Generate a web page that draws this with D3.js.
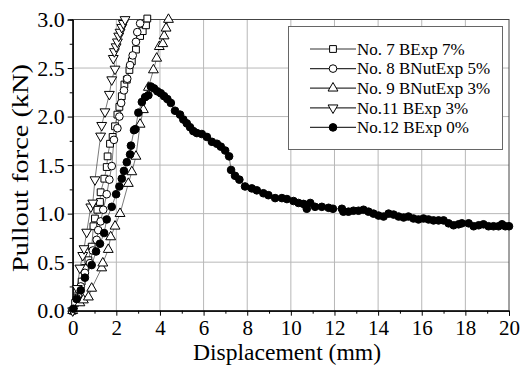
<!DOCTYPE html>
<html><head><meta charset="utf-8">
<script src="https://cdn.jsdelivr.net/npm/d3@7"></script>
<style>body{margin:0;background:#fff}svg{display:block}svg text{font-family:'Liberation Serif','Times New Roman',Times,serif !important;fill:#000}</style>
</head><body>
<script>
const xTicks = [0,2,4,6,8,10,12,14,16,18,20];
const yTicks = [0.0,0.5,1.0,1.5,2.0,2.5,3.0];
const seriesNames = ["No. 7 BExp 7%","No. 8 BNutExp 5%","No. 9 BNutExp 3%","No.11 BExp 3%","No.12 BExp 0%"];
const no7 = [[0,0],[0.11,0.08],[0.26,0.16],[0.41,0.30],[0.56,0.44],[0.72,0.52],[0.87,0.66],[0.95,0.87],[1.02,0.95],[1.13,1.04],[1.25,1.12],[1.28,1.22],[1.45,1.36],[1.56,1.48],[1.60,1.59],[1.71,1.72],[1.83,1.79],[1.94,1.90],[2.05,2.02],[2.14,2.10],[2.25,2.21],[2.37,2.33],[2.48,2.38],[2.60,2.48],[2.71,2.57],[2.90,2.69],[3.09,2.83],[3.21,2.88],[3.36,2.94],[3.42,3.01]];
const no8 = [[0,0],[0.18,0.13],[0.37,0.25],[0.56,0.39],[0.79,0.49],[0.92,0.62],[1.10,0.73],[1.17,0.83],[1.28,0.92],[1.40,1.04],[1.56,1.20],[1.68,1.35],[1.79,1.49],[1.89,1.76],[2.05,1.88],[2.14,2.00],[2.22,2.14],[2.35,2.27],[2.50,2.39],[2.63,2.53],[2.75,2.63],[2.90,2.77],[2.96,2.87],[3.09,2.96]];
const no9 = [[0,0],[0.33,0.08],[0.49,0.11],[0.72,0.14],[0.87,0.23],[1.33,0.44],[1.38,0.49],[1.63,0.63],[1.74,0.76],[1.94,0.87],[2.17,1.00],[2.55,1.31],[2.71,1.43],[2.90,1.59],[3.09,1.92],[3.24,2.07],[3.47,2.30],[3.70,2.48],[3.85,2.60],[3.97,2.72],[4.13,2.75],[4.19,2.83],[4.28,2.91],[4.39,3.00]];
const no11 = [[0,0],[0.21,0.23],[0.33,0.44],[0.46,0.57],[0.52,0.64],[0.64,0.81],[0.83,1.07],[0.92,1.11],[1.02,1.35],[1.28,1.80],[1.33,1.91],[1.48,2.05],[1.68,2.23],[1.79,2.38],[1.94,2.49],[1.86,2.60],[1.91,2.67],[1.99,2.72],[2.05,2.77],[2.11,2.83],[2.17,2.87],[2.25,2.92],[2.32,2.96],[2.40,3.00]];
const no12 = [[0.03,0.02],[0.18,0.12],[0.37,0.21],[0.56,0.34],[0.87,0.47],[1.07,0.61],[1.25,0.69],[1.44,0.80],[1.56,0.94],[1.79,1.07],[1.99,1.20],[2.14,1.28],[2.25,1.36],[2.35,1.44],[2.48,1.53],[2.63,1.61],[2.67,1.70],[2.81,1.86],[2.87,1.87],[3.01,2.04],[3.17,2.15],[3.32,2.20],[3.47,2.22],[3.58,2.31],[3.73,2.29],[3.88,2.26],[4.04,2.24],[4.19,2.21],[4.34,2.18],[4.50,2.14],[4.69,2.06],[4.92,2.02],[5.07,1.97],[5.23,1.93],[5.38,1.89],[5.53,1.85],[5.69,1.83],[5.92,1.82],[6.15,1.79],[6.38,1.74],[6.61,1.72],[6.79,1.69],[6.99,1.65],[7.17,1.59],[7.26,1.45],[7.44,1.39],[7.64,1.35],[7.90,1.28],[8.21,1.26],[8.44,1.24],[8.74,1.21],[8.97,1.19],[9.28,1.16],[9.59,1.16],[9.82,1.15],[10.12,1.13],[10.35,1.11],[10.58,1.10],[10.73,1.05],[10.89,1.11],[11.11,1.07],[11.42,1.07],[11.73,1.06],[11.93,1.05],[12.34,1.05],[12.41,1.02],[12.64,1.02],[12.87,1.03],[13.10,1.03],[13.33,1.04],[13.56,1.02],[13.79,1.00],[14.02,0.98],[14.25,0.97],[14.48,1.00],[14.71,0.99],[14.94,0.97],[15.17,0.96],[15.39,0.97],[15.62,0.95],[15.85,0.94],[16.08,0.95],[16.31,0.94],[16.54,0.93],[16.77,0.93],[17.00,0.93],[17.23,0.90],[17.46,0.88],[17.69,0.89],[17.84,0.90],[18.15,0.90],[18.38,0.87],[18.61,0.88],[18.83,0.89],[19.06,0.87],[19.29,0.87],[19.52,0.87],[19.68,0.89],[19.83,0.87],[20.0,0.87]];

const FONT="'Liberation Serif','Times New Roman',Times,serif";
const W=528,H=367, L=72.7, R=509, T=19.5, B=310.7;
const svg=d3.select("body").append("svg").attr("width",W).attr("height",H);
const x=d3.scaleLinear().domain([0,20]).range([L,R]);
const y=d3.scaleLinear().domain([0,3]).range([B,T]);

const g=svg.append("g");
g.selectAll("line.vx").data(xTicks.slice(1,-1)).enter().append("line")
 .attr("x1",d=>x(d)).attr("x2",d=>x(d)).attr("y1",T).attr("y2",B).attr("stroke","#b8b8b8").attr("stroke-width",1);
g.selectAll("line.hy").data(yTicks.slice(1,-1)).enter().append("line")
 .attr("y1",d=>y(d)).attr("y2",d=>y(d)).attr("x1",L).attr("x2",R).attr("stroke","#b8b8b8").attr("stroke-width",1);

svg.append("rect").attr("x",L).attr("y",T).attr("width",R-L).attr("height",B-T).attr("fill","none").attr("stroke","#444").attr("stroke-width",1);

const xa=svg.append("g").attr("transform",`translate(0,${B})`)
 .call(d3.axisBottom(x).tickValues(xTicks).tickSize(5).tickPadding(3).tickFormat(d3.format("d")));
const xm=svg.append("g").attr("transform",`translate(0,${B})`)
 .call(d3.axisBottom(x).tickValues(d3.range(1,20,2)).tickSize(3).tickFormat(""));
const ya=svg.append("g").attr("transform",`translate(${L},0)`)
 .call(d3.axisLeft(y).tickValues(yTicks).tickSize(5).tickPadding(3).tickFormat(d3.format(".1f")));
const ym=svg.append("g").attr("transform",`translate(${L},0)`)
 .call(d3.axisLeft(y).tickValues(d3.range(0.25,3,0.5)).tickSize(3).tickFormat(""));
[xa,xm,ya,ym].forEach(a=>{a.attr("font-family",FONT);a.selectAll("path").attr("stroke","#000");a.selectAll("line").attr("stroke","#000");});
xa.selectAll("text").attr("font-size",21).attr("dy",null).attr("y",24).attr("fill","#000");
ya.selectAll("text").attr("font-size",22).attr("fill","#000").attr("dy","0.33em");

svg.append("text").attr("x",287).attr("y",360).attr("text-anchor","middle").attr("font-size",22.5).attr("font-family",FONT)
 .attr("textLength",188).attr("lengthAdjust","spacingAndGlyphs").text("Displacement (mm)");
svg.append("text").attr("transform","translate(28,168) rotate(-90)").attr("text-anchor","middle").attr("font-size",23).attr("font-family",FONT)
 .attr("textLength",208).attr("lengthAdjust","spacingAndGlyphs").text("Pullout force (kN)");

const sq=d3.symbol().type(d3.symbolSquare).size(46);
const circ=d3.symbol().type(d3.symbolCircle).size(46);
const tri=d3.symbol().type(d3.symbolTriangle).size(42);
const defs=[
 {d:no7,sym:sq,fill:"#fff",rot:0},
 {d:no8,sym:circ,fill:"#fff",rot:0},
 {d:no9,sym:tri,fill:"#fff",rot:0},
 {d:no11,sym:tri,fill:"#fff",rot:180},
 {d:no12,sym:circ,fill:"#000",rot:0}
];
const line=d3.line().x(p=>x(p[0])).y(p=>y(p[1]));
defs.forEach(s=>{
 svg.append("path").attr("d",line(s.d)).attr("fill","none").attr("stroke","#222").attr("stroke-width",0.6);
});
defs.forEach(s=>{
 svg.append("g").selectAll("path").data(s.d).enter().append("path")
  .attr("d",s.sym).attr("transform",p=>`translate(${x(p[0])},${y(p[1])}) rotate(${s.rot})`)
  .attr("fill",s.fill).attr("stroke","#000").attr("stroke-width",1);
});

const lg=svg.append("g");
lg.append("rect").attr("x",288.5).attr("y",26.5).attr("width",214).attr("height",123).attr("fill","#fff").attr("stroke","#666").attr("stroke-width",1);
defs.forEach((s,i)=>{
 const yy=49+i*19.6;
 lg.append("line").attr("x1",310).attr("x2",356).attr("y1",yy).attr("y2",yy).attr("stroke","#333").attr("stroke-width",1.2);
 lg.append("path").attr("d",s.sym).attr("transform",`translate(333,${yy}) rotate(${s.rot})`).attr("fill",s.fill).attr("stroke","#000");
 lg.append("text").attr("x",357).attr("y",yy).attr("dy","0.34em").attr("font-size",17).attr("font-family",FONT).text(seriesNames[i]);
});
</script>
</body></html>
